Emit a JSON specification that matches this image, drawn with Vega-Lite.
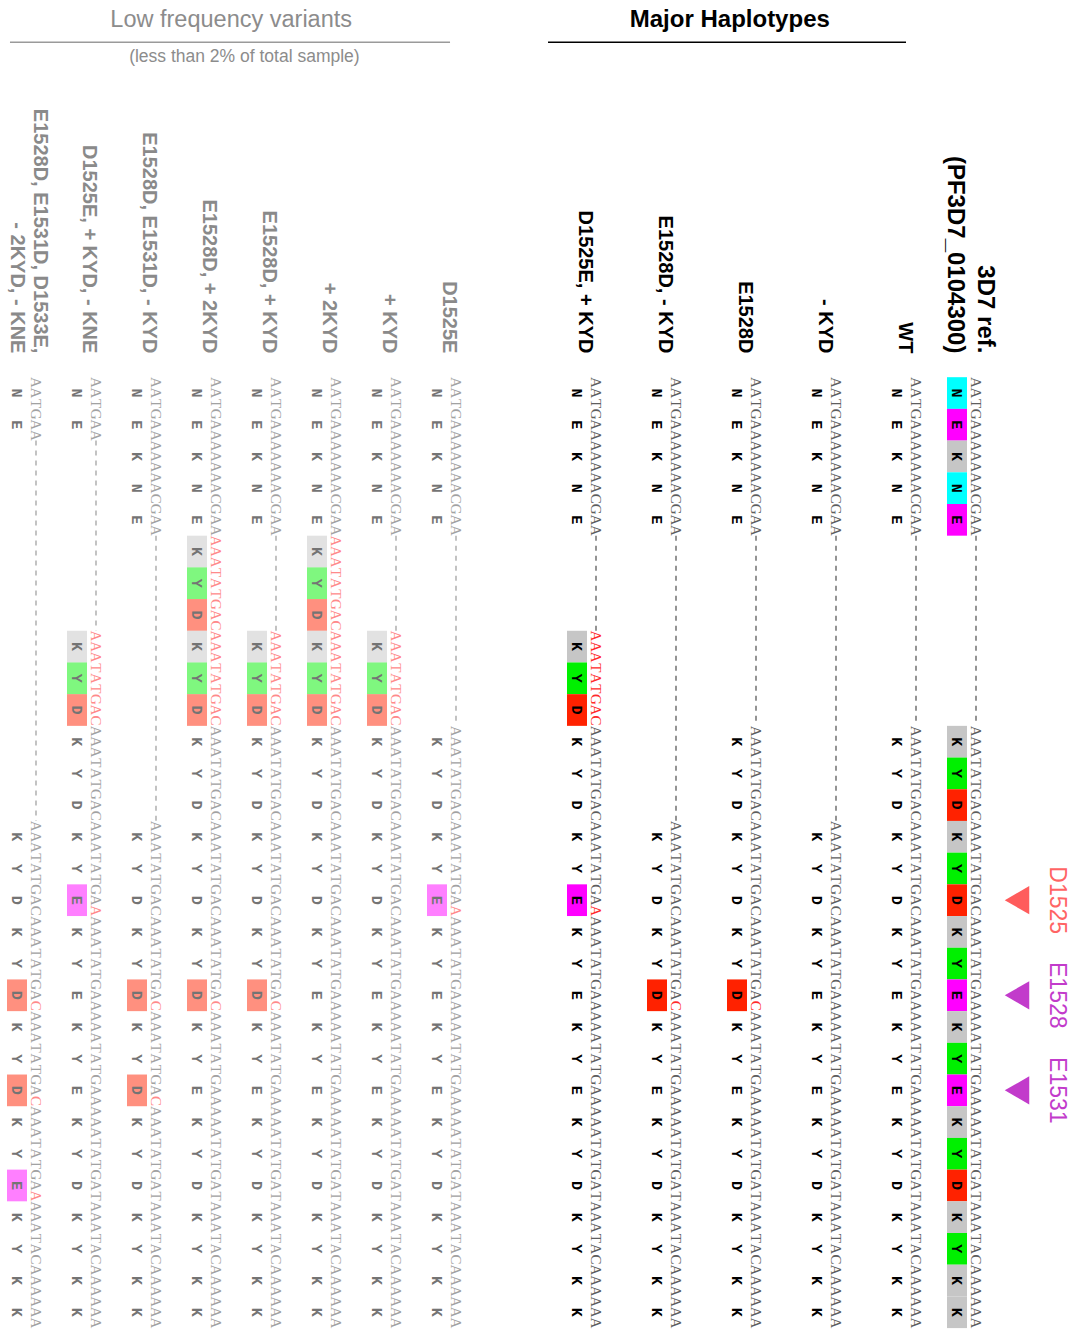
{
  "$schema": "https://vega.github.io/schema/vega-lite/v6.json",
  "width": 1077,
  "height": 1330,
  "autosize": {"type": "none"},
  "padding": 0,
  "background": "white",
  "config": {"view": {"stroke": null}},
  "datasets": {
    "cells": [
      {"c":13,"s":0,"a":"N","n":"AAT","b":1},{"c":13,"s":1,"a":"E","n":"GAA","b":1},{"c":13,"s":2,"a":"K","n":"AAA","b":1},{"c":13,"s":3,"a":"N","n":"AAC","b":1},{"c":13,"s":4,"a":"E","n":"GAA","b":1},
      {"c":13,"s":11,"a":"K","n":"AAA","b":1},{"c":13,"s":12,"a":"Y","n":"TAT","b":1},{"c":13,"s":13,"a":"D","n":"GAC","b":1},{"c":13,"s":14,"a":"K","n":"AAA","b":1},{"c":13,"s":15,"a":"Y","n":"TAT","b":1},{"c":13,"s":16,"a":"D","n":"GAC","b":1},{"c":13,"s":17,"a":"K","n":"AAA","b":1},{"c":13,"s":18,"a":"Y","n":"TAT","b":1},{"c":13,"s":19,"a":"E","n":"GAA","b":1},{"c":13,"s":20,"a":"K","n":"AAA","b":1},{"c":13,"s":21,"a":"Y","n":"TAT","b":1},{"c":13,"s":22,"a":"E","n":"GAA","b":1},{"c":13,"s":23,"a":"K","n":"AAA","b":1},{"c":13,"s":24,"a":"Y","n":"TAT","b":1},{"c":13,"s":25,"a":"D","n":"GAT","b":1},{"c":13,"s":26,"a":"K","n":"AAA","b":1},{"c":13,"s":27,"a":"Y","n":"TAC","b":1},{"c":13,"s":28,"a":"K","n":"AAA","b":1},{"c":13,"s":29,"a":"K","n":"AAA","b":1},

      {"c":12,"s":0,"a":"N","n":"AAT"},{"c":12,"s":1,"a":"E","n":"GAA"},{"c":12,"s":2,"a":"K","n":"AAA"},{"c":12,"s":3,"a":"N","n":"AAC"},{"c":12,"s":4,"a":"E","n":"GAA"},
      {"c":12,"s":11,"a":"K","n":"AAA"},{"c":12,"s":12,"a":"Y","n":"TAT"},{"c":12,"s":13,"a":"D","n":"GAC"},{"c":12,"s":14,"a":"K","n":"AAA"},{"c":12,"s":15,"a":"Y","n":"TAT"},{"c":12,"s":16,"a":"D","n":"GAC"},{"c":12,"s":17,"a":"K","n":"AAA"},{"c":12,"s":18,"a":"Y","n":"TAT"},{"c":12,"s":19,"a":"E","n":"GAA"},{"c":12,"s":20,"a":"K","n":"AAA"},{"c":12,"s":21,"a":"Y","n":"TAT"},{"c":12,"s":22,"a":"E","n":"GAA"},{"c":12,"s":23,"a":"K","n":"AAA"},{"c":12,"s":24,"a":"Y","n":"TAT"},{"c":12,"s":25,"a":"D","n":"GAT"},{"c":12,"s":26,"a":"K","n":"AAA"},{"c":12,"s":27,"a":"Y","n":"TAC"},{"c":12,"s":28,"a":"K","n":"AAA"},{"c":12,"s":29,"a":"K","n":"AAA"},

      {"c":11,"s":0,"a":"N","n":"AAT"},{"c":11,"s":1,"a":"E","n":"GAA"},{"c":11,"s":2,"a":"K","n":"AAA"},{"c":11,"s":3,"a":"N","n":"AAC"},{"c":11,"s":4,"a":"E","n":"GAA"},
      {"c":11,"s":14,"a":"K","n":"AAA"},{"c":11,"s":15,"a":"Y","n":"TAT"},{"c":11,"s":16,"a":"D","n":"GAC"},{"c":11,"s":17,"a":"K","n":"AAA"},{"c":11,"s":18,"a":"Y","n":"TAT"},{"c":11,"s":19,"a":"E","n":"GAA"},{"c":11,"s":20,"a":"K","n":"AAA"},{"c":11,"s":21,"a":"Y","n":"TAT"},{"c":11,"s":22,"a":"E","n":"GAA"},{"c":11,"s":23,"a":"K","n":"AAA"},{"c":11,"s":24,"a":"Y","n":"TAT"},{"c":11,"s":25,"a":"D","n":"GAT"},{"c":11,"s":26,"a":"K","n":"AAA"},{"c":11,"s":27,"a":"Y","n":"TAC"},{"c":11,"s":28,"a":"K","n":"AAA"},{"c":11,"s":29,"a":"K","n":"AAA"},

      {"c":10,"s":0,"a":"N","n":"AAT"},{"c":10,"s":1,"a":"E","n":"GAA"},{"c":10,"s":2,"a":"K","n":"AAA"},{"c":10,"s":3,"a":"N","n":"AAC"},{"c":10,"s":4,"a":"E","n":"GAA"},
      {"c":10,"s":11,"a":"K","n":"AAA"},{"c":10,"s":12,"a":"Y","n":"TAT"},{"c":10,"s":13,"a":"D","n":"GAC"},{"c":10,"s":14,"a":"K","n":"AAA"},{"c":10,"s":15,"a":"Y","n":"TAT"},{"c":10,"s":16,"a":"D","n":"GAC"},{"c":10,"s":17,"a":"K","n":"AAA"},{"c":10,"s":18,"a":"Y","n":"TAT"},{"c":10,"s":19,"a":"D","n":"GAC","b":1,"t":"C"},{"c":10,"s":20,"a":"K","n":"AAA"},{"c":10,"s":21,"a":"Y","n":"TAT"},{"c":10,"s":22,"a":"E","n":"GAA"},{"c":10,"s":23,"a":"K","n":"AAA"},{"c":10,"s":24,"a":"Y","n":"TAT"},{"c":10,"s":25,"a":"D","n":"GAT"},{"c":10,"s":26,"a":"K","n":"AAA"},{"c":10,"s":27,"a":"Y","n":"TAC"},{"c":10,"s":28,"a":"K","n":"AAA"},{"c":10,"s":29,"a":"K","n":"AAA"},

      {"c":9,"s":0,"a":"N","n":"AAT"},{"c":9,"s":1,"a":"E","n":"GAA"},{"c":9,"s":2,"a":"K","n":"AAA"},{"c":9,"s":3,"a":"N","n":"AAC"},{"c":9,"s":4,"a":"E","n":"GAA"},
      {"c":9,"s":14,"a":"K","n":"AAA"},{"c":9,"s":15,"a":"Y","n":"TAT"},{"c":9,"s":16,"a":"D","n":"GAC"},{"c":9,"s":17,"a":"K","n":"AAA"},{"c":9,"s":18,"a":"Y","n":"TAT"},{"c":9,"s":19,"a":"D","n":"GAC","b":1,"t":"C"},{"c":9,"s":20,"a":"K","n":"AAA"},{"c":9,"s":21,"a":"Y","n":"TAT"},{"c":9,"s":22,"a":"E","n":"GAA"},{"c":9,"s":23,"a":"K","n":"AAA"},{"c":9,"s":24,"a":"Y","n":"TAT"},{"c":9,"s":25,"a":"D","n":"GAT"},{"c":9,"s":26,"a":"K","n":"AAA"},{"c":9,"s":27,"a":"Y","n":"TAC"},{"c":9,"s":28,"a":"K","n":"AAA"},{"c":9,"s":29,"a":"K","n":"AAA"},

      {"c":8,"s":0,"a":"N","n":"AAT"},{"c":8,"s":1,"a":"E","n":"GAA"},{"c":8,"s":2,"a":"K","n":"AAA"},{"c":8,"s":3,"a":"N","n":"AAC"},{"c":8,"s":4,"a":"E","n":"GAA"},
      {"c":8,"s":8,"a":"K","n":"AAA","b":1,"r":1},{"c":8,"s":9,"a":"Y","n":"TAT","b":1,"r":1},{"c":8,"s":10,"a":"D","n":"GAC","b":1,"r":1},
      {"c":8,"s":11,"a":"K","n":"AAA"},{"c":8,"s":12,"a":"Y","n":"TAT"},{"c":8,"s":13,"a":"D","n":"GAC"},{"c":8,"s":14,"a":"K","n":"AAA"},{"c":8,"s":15,"a":"Y","n":"TAT"},{"c":8,"s":16,"a":"E","n":"GAA","b":1,"t":"A"},{"c":8,"s":17,"a":"K","n":"AAA"},{"c":8,"s":18,"a":"Y","n":"TAT"},{"c":8,"s":19,"a":"E","n":"GAA"},{"c":8,"s":20,"a":"K","n":"AAA"},{"c":8,"s":21,"a":"Y","n":"TAT"},{"c":8,"s":22,"a":"E","n":"GAA"},{"c":8,"s":23,"a":"K","n":"AAA"},{"c":8,"s":24,"a":"Y","n":"TAT"},{"c":8,"s":25,"a":"D","n":"GAT"},{"c":8,"s":26,"a":"K","n":"AAA"},{"c":8,"s":27,"a":"Y","n":"TAC"},{"c":8,"s":28,"a":"K","n":"AAA"},{"c":8,"s":29,"a":"K","n":"AAA"},

      {"c":7,"s":0,"a":"N","n":"AAT"},{"c":7,"s":1,"a":"E","n":"GAA"},{"c":7,"s":2,"a":"K","n":"AAA"},{"c":7,"s":3,"a":"N","n":"AAC"},{"c":7,"s":4,"a":"E","n":"GAA"},
      {"c":7,"s":11,"a":"K","n":"AAA"},{"c":7,"s":12,"a":"Y","n":"TAT"},{"c":7,"s":13,"a":"D","n":"GAC"},{"c":7,"s":14,"a":"K","n":"AAA"},{"c":7,"s":15,"a":"Y","n":"TAT"},{"c":7,"s":16,"a":"E","n":"GAA","b":1,"t":"A"},{"c":7,"s":17,"a":"K","n":"AAA"},{"c":7,"s":18,"a":"Y","n":"TAT"},{"c":7,"s":19,"a":"E","n":"GAA"},{"c":7,"s":20,"a":"K","n":"AAA"},{"c":7,"s":21,"a":"Y","n":"TAT"},{"c":7,"s":22,"a":"E","n":"GAA"},{"c":7,"s":23,"a":"K","n":"AAA"},{"c":7,"s":24,"a":"Y","n":"TAT"},{"c":7,"s":25,"a":"D","n":"GAT"},{"c":7,"s":26,"a":"K","n":"AAA"},{"c":7,"s":27,"a":"Y","n":"TAC"},{"c":7,"s":28,"a":"K","n":"AAA"},{"c":7,"s":29,"a":"K","n":"AAA"},

      {"c":6,"s":0,"a":"N","n":"AAT"},{"c":6,"s":1,"a":"E","n":"GAA"},{"c":6,"s":2,"a":"K","n":"AAA"},{"c":6,"s":3,"a":"N","n":"AAC"},{"c":6,"s":4,"a":"E","n":"GAA"},
      {"c":6,"s":8,"a":"K","n":"AAA","b":1,"r":1},{"c":6,"s":9,"a":"Y","n":"TAT","b":1,"r":1},{"c":6,"s":10,"a":"D","n":"GAC","b":1,"r":1},
      {"c":6,"s":11,"a":"K","n":"AAA"},{"c":6,"s":12,"a":"Y","n":"TAT"},{"c":6,"s":13,"a":"D","n":"GAC"},{"c":6,"s":14,"a":"K","n":"AAA"},{"c":6,"s":15,"a":"Y","n":"TAT"},{"c":6,"s":16,"a":"D","n":"GAC"},{"c":6,"s":17,"a":"K","n":"AAA"},{"c":6,"s":18,"a":"Y","n":"TAT"},{"c":6,"s":19,"a":"E","n":"GAA"},{"c":6,"s":20,"a":"K","n":"AAA"},{"c":6,"s":21,"a":"Y","n":"TAT"},{"c":6,"s":22,"a":"E","n":"GAA"},{"c":6,"s":23,"a":"K","n":"AAA"},{"c":6,"s":24,"a":"Y","n":"TAT"},{"c":6,"s":25,"a":"D","n":"GAT"},{"c":6,"s":26,"a":"K","n":"AAA"},{"c":6,"s":27,"a":"Y","n":"TAC"},{"c":6,"s":28,"a":"K","n":"AAA"},{"c":6,"s":29,"a":"K","n":"AAA"},

      {"c":5,"s":0,"a":"N","n":"AAT"},{"c":5,"s":1,"a":"E","n":"GAA"},{"c":5,"s":2,"a":"K","n":"AAA"},{"c":5,"s":3,"a":"N","n":"AAC"},{"c":5,"s":4,"a":"E","n":"GAA"},
      {"c":5,"s":5,"a":"K","n":"AAA","b":1,"r":1},{"c":5,"s":6,"a":"Y","n":"TAT","b":1,"r":1},{"c":5,"s":7,"a":"D","n":"GAC","b":1,"r":1},{"c":5,"s":8,"a":"K","n":"AAA","b":1,"r":1},{"c":5,"s":9,"a":"Y","n":"TAT","b":1,"r":1},{"c":5,"s":10,"a":"D","n":"GAC","b":1,"r":1},
      {"c":5,"s":11,"a":"K","n":"AAA"},{"c":5,"s":12,"a":"Y","n":"TAT"},{"c":5,"s":13,"a":"D","n":"GAC"},{"c":5,"s":14,"a":"K","n":"AAA"},{"c":5,"s":15,"a":"Y","n":"TAT"},{"c":5,"s":16,"a":"D","n":"GAC"},{"c":5,"s":17,"a":"K","n":"AAA"},{"c":5,"s":18,"a":"Y","n":"TAT"},{"c":5,"s":19,"a":"E","n":"GAA"},{"c":5,"s":20,"a":"K","n":"AAA"},{"c":5,"s":21,"a":"Y","n":"TAT"},{"c":5,"s":22,"a":"E","n":"GAA"},{"c":5,"s":23,"a":"K","n":"AAA"},{"c":5,"s":24,"a":"Y","n":"TAT"},{"c":5,"s":25,"a":"D","n":"GAT"},{"c":5,"s":26,"a":"K","n":"AAA"},{"c":5,"s":27,"a":"Y","n":"TAC"},{"c":5,"s":28,"a":"K","n":"AAA"},{"c":5,"s":29,"a":"K","n":"AAA"},

      {"c":4,"s":0,"a":"N","n":"AAT"},{"c":4,"s":1,"a":"E","n":"GAA"},{"c":4,"s":2,"a":"K","n":"AAA"},{"c":4,"s":3,"a":"N","n":"AAC"},{"c":4,"s":4,"a":"E","n":"GAA"},
      {"c":4,"s":8,"a":"K","n":"AAA","b":1,"r":1},{"c":4,"s":9,"a":"Y","n":"TAT","b":1,"r":1},{"c":4,"s":10,"a":"D","n":"GAC","b":1,"r":1},
      {"c":4,"s":11,"a":"K","n":"AAA"},{"c":4,"s":12,"a":"Y","n":"TAT"},{"c":4,"s":13,"a":"D","n":"GAC"},{"c":4,"s":14,"a":"K","n":"AAA"},{"c":4,"s":15,"a":"Y","n":"TAT"},{"c":4,"s":16,"a":"D","n":"GAC"},{"c":4,"s":17,"a":"K","n":"AAA"},{"c":4,"s":18,"a":"Y","n":"TAT"},{"c":4,"s":19,"a":"D","n":"GAC","b":1,"t":"C"},{"c":4,"s":20,"a":"K","n":"AAA"},{"c":4,"s":21,"a":"Y","n":"TAT"},{"c":4,"s":22,"a":"E","n":"GAA"},{"c":4,"s":23,"a":"K","n":"AAA"},{"c":4,"s":24,"a":"Y","n":"TAT"},{"c":4,"s":25,"a":"D","n":"GAT"},{"c":4,"s":26,"a":"K","n":"AAA"},{"c":4,"s":27,"a":"Y","n":"TAC"},{"c":4,"s":28,"a":"K","n":"AAA"},{"c":4,"s":29,"a":"K","n":"AAA"},

      {"c":3,"s":0,"a":"N","n":"AAT"},{"c":3,"s":1,"a":"E","n":"GAA"},{"c":3,"s":2,"a":"K","n":"AAA"},{"c":3,"s":3,"a":"N","n":"AAC"},{"c":3,"s":4,"a":"E","n":"GAA"},
      {"c":3,"s":5,"a":"K","n":"AAA","b":1,"r":1},{"c":3,"s":6,"a":"Y","n":"TAT","b":1,"r":1},{"c":3,"s":7,"a":"D","n":"GAC","b":1,"r":1},{"c":3,"s":8,"a":"K","n":"AAA","b":1,"r":1},{"c":3,"s":9,"a":"Y","n":"TAT","b":1,"r":1},{"c":3,"s":10,"a":"D","n":"GAC","b":1,"r":1},
      {"c":3,"s":11,"a":"K","n":"AAA"},{"c":3,"s":12,"a":"Y","n":"TAT"},{"c":3,"s":13,"a":"D","n":"GAC"},{"c":3,"s":14,"a":"K","n":"AAA"},{"c":3,"s":15,"a":"Y","n":"TAT"},{"c":3,"s":16,"a":"D","n":"GAC"},{"c":3,"s":17,"a":"K","n":"AAA"},{"c":3,"s":18,"a":"Y","n":"TAT"},{"c":3,"s":19,"a":"D","n":"GAC","b":1,"t":"C"},{"c":3,"s":20,"a":"K","n":"AAA"},{"c":3,"s":21,"a":"Y","n":"TAT"},{"c":3,"s":22,"a":"E","n":"GAA"},{"c":3,"s":23,"a":"K","n":"AAA"},{"c":3,"s":24,"a":"Y","n":"TAT"},{"c":3,"s":25,"a":"D","n":"GAT"},{"c":3,"s":26,"a":"K","n":"AAA"},{"c":3,"s":27,"a":"Y","n":"TAC"},{"c":3,"s":28,"a":"K","n":"AAA"},{"c":3,"s":29,"a":"K","n":"AAA"},

      {"c":2,"s":0,"a":"N","n":"AAT"},{"c":2,"s":1,"a":"E","n":"GAA"},{"c":2,"s":2,"a":"K","n":"AAA"},{"c":2,"s":3,"a":"N","n":"AAC"},{"c":2,"s":4,"a":"E","n":"GAA"},
      {"c":2,"s":14,"a":"K","n":"AAA"},{"c":2,"s":15,"a":"Y","n":"TAT"},{"c":2,"s":16,"a":"D","n":"GAC"},{"c":2,"s":17,"a":"K","n":"AAA"},{"c":2,"s":18,"a":"Y","n":"TAT"},{"c":2,"s":19,"a":"D","n":"GAC","b":1,"t":"C"},{"c":2,"s":20,"a":"K","n":"AAA"},{"c":2,"s":21,"a":"Y","n":"TAT"},{"c":2,"s":22,"a":"D","n":"GAC","b":1,"t":"C"},{"c":2,"s":23,"a":"K","n":"AAA"},{"c":2,"s":24,"a":"Y","n":"TAT"},{"c":2,"s":25,"a":"D","n":"GAT"},{"c":2,"s":26,"a":"K","n":"AAA"},{"c":2,"s":27,"a":"Y","n":"TAC"},{"c":2,"s":28,"a":"K","n":"AAA"},{"c":2,"s":29,"a":"K","n":"AAA"},

      {"c":1,"s":0,"a":"N","n":"AAT"},{"c":1,"s":1,"a":"E","n":"GAA"},
      {"c":1,"s":8,"a":"K","n":"AAA","b":1,"r":1},{"c":1,"s":9,"a":"Y","n":"TAT","b":1,"r":1},{"c":1,"s":10,"a":"D","n":"GAC","b":1,"r":1},
      {"c":1,"s":11,"a":"K","n":"AAA"},{"c":1,"s":12,"a":"Y","n":"TAT"},{"c":1,"s":13,"a":"D","n":"GAC"},{"c":1,"s":14,"a":"K","n":"AAA"},{"c":1,"s":15,"a":"Y","n":"TAT"},{"c":1,"s":16,"a":"E","n":"GAA","b":1,"t":"A"},{"c":1,"s":17,"a":"K","n":"AAA"},{"c":1,"s":18,"a":"Y","n":"TAT"},{"c":1,"s":19,"a":"E","n":"GAA"},{"c":1,"s":20,"a":"K","n":"AAA"},{"c":1,"s":21,"a":"Y","n":"TAT"},{"c":1,"s":22,"a":"E","n":"GAA"},{"c":1,"s":23,"a":"K","n":"AAA"},{"c":1,"s":24,"a":"Y","n":"TAT"},{"c":1,"s":25,"a":"D","n":"GAT"},{"c":1,"s":26,"a":"K","n":"AAA"},{"c":1,"s":27,"a":"Y","n":"TAC"},{"c":1,"s":28,"a":"K","n":"AAA"},{"c":1,"s":29,"a":"K","n":"AAA"},

      {"c":0,"s":0,"a":"N","n":"AAT"},{"c":0,"s":1,"a":"E","n":"GAA"},
      {"c":0,"s":14,"a":"K","n":"AAA"},{"c":0,"s":15,"a":"Y","n":"TAT"},{"c":0,"s":16,"a":"D","n":"GAC"},{"c":0,"s":17,"a":"K","n":"AAA"},{"c":0,"s":18,"a":"Y","n":"TAT"},{"c":0,"s":19,"a":"D","n":"GAC","b":1,"t":"C"},{"c":0,"s":20,"a":"K","n":"AAA"},{"c":0,"s":21,"a":"Y","n":"TAT"},{"c":0,"s":22,"a":"D","n":"GAC","b":1,"t":"C"},{"c":0,"s":23,"a":"K","n":"AAA"},{"c":0,"s":24,"a":"Y","n":"TAT"},{"c":0,"s":25,"a":"E","n":"GAA","b":1,"t":"A"},{"c":0,"s":26,"a":"K","n":"AAA"},{"c":0,"s":27,"a":"Y","n":"TAC"},{"c":0,"s":28,"a":"K","n":"AAA"},{"c":0,"s":29,"a":"K","n":"AAA"}
    ],
    "gaps": [
      {"c":13,"f":5,"e":10},{"c":12,"f":5,"e":10},{"c":11,"f":5,"e":13},{"c":10,"f":5,"e":10},{"c":9,"f":5,"e":13},{"c":8,"f":5,"e":7},
      {"c":7,"f":5,"e":10},{"c":6,"f":5,"e":7},{"c":4,"f":5,"e":7},{"c":2,"f":5,"e":13},{"c":1,"f":2,"e":7},{"c":0,"f":2,"e":13}
    ],
    "haps": [
      {"c":0,"g":"low","label":["E1528D, E1531D, D1533E,","- 2KYD, - KNE"]},
      {"c":1,"g":"low","label":"D1525E, + KYD, - KNE"},
      {"c":2,"g":"low","label":"E1528D, E1531D, - KYD"},
      {"c":3,"g":"low","label":"E1528D, + 2KYD"},
      {"c":4,"g":"low","label":"E1528D, + KYD"},
      {"c":5,"g":"low","label":"+ 2KYD"},
      {"c":6,"g":"low","label":"+ KYD"},
      {"c":7,"g":"low","label":"D1525E"},
      {"c":8,"g":"maj","label":"D1525E, + KYD"},
      {"c":9,"g":"maj","label":"E1528D, - KYD"},
      {"c":10,"g":"maj","label":"E1528D"},
      {"c":11,"g":"maj","label":"- KYD"},
      {"c":12,"g":"maj","label":"WT"},
      {"c":13,"g":"ref","label":["3D7 ref.","(PF3D7_0104300)"]}
    ],
    "sites": [
      {"s":16,"m":"D1525"},{"s":19,"m":"E1528"},{"s":22,"m":"E1531"}
    ],
    "heads": [
      {"k":"low","h":"Low frequency variants"},
      {"k":"sub","h":"(less than 2% of total sample)"},
      {"k":"maj","h":"Major Haplotypes"}
    ]
  },
  "layer": [
    {
      "data": {"name": "cells"},
      "transform": [{"filter": "datum.b == 1"}],
      "mark": {"type": "rect", "xOffset": -10, "x2Offset": 10, "yOffset": -15.85, "y2Offset": 15.85},
      "encoding": {
        "x": {"field": "c", "type": "quantitative", "axis": null, "scale": {"domain": [0, 7, 8, 12, 13], "range": [17, 437, 577, 897, 957], "zero": false, "nice": false}},
        "x2": {"field": "c"},
        "y": {"field": "s", "type": "quantitative", "axis": null, "scale": {"domain": [-12.4, 29.56], "range": [0, 1330], "zero": false, "nice": false}},
        "y2": {"field": "s"},
        "color": {"field": "a", "type": "nominal", "legend": null, "scale": {"domain": ["N", "E", "K", "Y", "D"], "range": ["#00FFFF", "#FF00FF", "#C6C6C6", "#00F000", "#FF2200"]}},
        "opacity": {"condition": {"test": "datum.c < 8", "value": 0.5}, "value": 1}
      }
    },
    {
      "data": {"name": "gaps"},
      "mark": {"type": "rule", "xOffset": 19, "yOffset": -15.85, "y2Offset": 15.85, "strokeDash": [5, 5], "strokeWidth": 1.6},
      "encoding": {
        "x": {"field": "c", "type": "quantitative", "axis": null},
        "y": {"field": "f", "type": "quantitative", "axis": null},
        "y2": {"field": "e"},
        "color": {"condition": {"test": "datum.c < 8", "value": "#b4b4b4"}, "value": "#7a7a7a"}
      }
    },
    {
      "data": {"name": "cells"},
      "mark": {"type": "text", "angle": 90, "align": "center", "baseline": "middle", "dx": -10.57, "dy": -19, "font": "Liberation Serif", "fontSize": 15},
      "encoding": {
        "x": {"field": "c", "type": "quantitative", "axis": null},
        "y": {"field": "s", "type": "quantitative", "axis": null},
        "text": {"field": "n[0]"},
        "color": {
          "condition": [
            {"test": "datum.r == 1 && datum.c < 8", "value": "#ff8a8a"},
            {"test": "datum.r == 1", "value": "#ff2a2a"},
            {"test": "datum.c < 8", "value": "#a2a2a2"}
          ],
          "value": "#5e5e5e"
        }
      }
    },
    {
      "data": {"name": "cells"},
      "mark": {"type": "text", "angle": 90, "align": "center", "baseline": "middle", "dx": 0, "dy": -19, "font": "Liberation Serif", "fontSize": 15},
      "encoding": {
        "x": {"field": "c", "type": "quantitative", "axis": null},
        "y": {"field": "s", "type": "quantitative", "axis": null},
        "text": {"field": "n[1]"},
        "color": {
          "condition": [
            {"test": "datum.r == 1 && datum.c < 8", "value": "#ff8a8a"},
            {"test": "datum.r == 1", "value": "#ff2a2a"},
            {"test": "datum.c < 8", "value": "#a2a2a2"}
          ],
          "value": "#5e5e5e"
        }
      }
    },
    {
      "data": {"name": "cells"},
      "mark": {"type": "text", "angle": 90, "align": "center", "baseline": "middle", "dx": 10.57, "dy": -19, "font": "Liberation Serif", "fontSize": 15},
      "encoding": {
        "x": {"field": "c", "type": "quantitative", "axis": null},
        "y": {"field": "s", "type": "quantitative", "axis": null},
        "text": {"field": "n[2]"},
        "color": {
          "condition": [
            {"test": "(datum.r == 1 || datum.t) && datum.c < 8", "value": "#ff8a8a"},
            {"test": "datum.r == 1 || datum.t", "value": "#ff2a2a"},
            {"test": "datum.c < 8", "value": "#a2a2a2"}
          ],
          "value": "#5e5e5e"
        }
      }
    },
    {
      "data": {"name": "cells"},
      "mark": {"type": "text", "angle": 90, "align": "center", "baseline": "middle", "font": "Liberation Mono", "fontWeight": "bold", "fontSize": 15},
      "encoding": {
        "x": {"field": "c", "type": "quantitative", "axis": null},
        "y": {"field": "s", "type": "quantitative", "axis": null},
        "text": {"field": "a"},
        "color": {"condition": {"test": "datum.c < 8", "value": "#747474"}, "value": "#000000"}
      }
    },
    {
      "data": {"name": "haps"},
      "transform": [{"filter": "datum.g == 'ref'"}],
      "mark": {"type": "text", "angle": 90, "align": "right", "baseline": "middle", "dy": -28, "font": "Liberation Sans", "fontWeight": "bold", "fontSize": 24, "lineHeight": 30, "color": "#000000"},
      "encoding": {
        "x": {"field": "c", "type": "quantitative", "axis": null},
        "y": {"datum": -1.25, "type": "quantitative", "axis": null},
        "text": {"field": "label"}
      }
    },
    {
      "data": {"name": "haps"},
      "transform": [{"filter": "datum.g == 'maj'"}],
      "mark": {"type": "text", "angle": 90, "align": "right", "baseline": "middle", "dy": -8, "font": "Liberation Sans", "fontWeight": "bold", "fontSize": 20, "color": "#000000"},
      "encoding": {
        "x": {"field": "c", "type": "quantitative", "axis": null},
        "y": {"datum": -1.25, "type": "quantitative", "axis": null},
        "text": {"field": "label"}
      }
    },
    {
      "data": {"name": "haps"},
      "transform": [{"filter": "datum.g == 'low' && !isArray(datum.label)"}],
      "mark": {"type": "text", "angle": 90, "align": "right", "baseline": "middle", "dy": -12, "font": "Liberation Sans", "fontWeight": "bold", "fontSize": 20, "color": "#8a8a8a"},
      "encoding": {
        "x": {"field": "c", "type": "quantitative", "axis": null},
        "y": {"datum": -1.25, "type": "quantitative", "axis": null},
        "text": {"field": "label"}
      }
    },
    {
      "data": {"name": "haps"},
      "transform": [{"filter": "datum.g == 'low' && isArray(datum.label)"}],
      "mark": {"type": "text", "angle": 90, "align": "right", "baseline": "middle", "dy": -23, "font": "Liberation Sans", "fontWeight": "bold", "fontSize": 20, "lineHeight": 23, "color": "#8a8a8a"},
      "encoding": {
        "x": {"field": "c", "type": "quantitative", "axis": null},
        "y": {"datum": -1.25, "type": "quantitative", "axis": null},
        "text": {"field": "label"}
      }
    },
    {
      "data": {"name": "heads"},
      "transform": [{"filter": "datum.k == 'low'"}],
      "mark": {"type": "text", "align": "center", "baseline": "middle", "font": "Liberation Sans", "fontSize": 23.5, "color": "#8c8c8c"},
      "encoding": {
        "x": {"datum": 3.57, "type": "quantitative", "axis": null},
        "y": {"datum": -11.77, "type": "quantitative", "axis": null},
        "text": {"field": "h"}
      }
    },
    {
      "data": {"name": "heads"},
      "transform": [{"filter": "datum.k == 'sub'"}],
      "mark": {"type": "text", "align": "center", "baseline": "middle", "font": "Liberation Sans", "fontSize": 17.5, "color": "#8c8c8c"},
      "encoding": {
        "x": {"datum": 3.79, "type": "quantitative", "axis": null},
        "y": {"datum": -10.6, "type": "quantitative", "axis": null},
        "text": {"field": "h"}
      }
    },
    {
      "data": {"name": "heads"},
      "transform": [{"filter": "datum.k == 'low'"}],
      "mark": {"type": "rule", "color": "#9a9a9a", "strokeWidth": 1.5},
      "encoding": {
        "x": {"datum": -0.117, "type": "quantitative", "axis": null},
        "x2": {"datum": 7.093},
        "y": {"datum": -11.07, "type": "quantitative", "axis": null}
      }
    },
    {
      "data": {"name": "heads"},
      "transform": [{"filter": "datum.k == 'maj'"}],
      "mark": {"type": "text", "align": "center", "baseline": "middle", "font": "Liberation Sans", "fontWeight": "bold", "fontSize": 24, "color": "#000000"},
      "encoding": {
        "x": {"datum": 9.91, "type": "quantitative", "axis": null},
        "y": {"datum": -11.77, "type": "quantitative", "axis": null},
        "text": {"field": "h"}
      }
    },
    {
      "data": {"name": "heads"},
      "transform": [{"filter": "datum.k == 'maj'"}],
      "mark": {"type": "rule", "color": "#000000", "strokeWidth": 1.5},
      "encoding": {
        "x": {"datum": 7.793, "type": "quantitative", "axis": null},
        "x2": {"datum": 12.15},
        "y": {"datum": -11.07, "type": "quantitative", "axis": null}
      }
    },
    {
      "data": {"name": "sites"},
      "mark": {"type": "point", "shape": "triangle-left", "filled": true, "size": 800, "opacity": 1},
      "encoding": {
        "x": {"datum": 14.0, "type": "quantitative", "axis": null},
        "y": {"field": "s", "type": "quantitative", "axis": null},
        "color": {"condition": {"test": "datum.m == 'D1525'", "value": "#ff5c5c"}, "value": "#c23bcb"}
      }
    },
    {
      "data": {"name": "sites"},
      "mark": {"type": "text", "angle": 90, "align": "center", "baseline": "middle", "font": "Liberation Sans", "fontSize": 23},
      "encoding": {
        "x": {"datum": 14.67, "type": "quantitative", "axis": null},
        "y": {"field": "s", "type": "quantitative", "axis": null},
        "text": {"field": "m"},
        "color": {"condition": {"test": "datum.m == 'D1525'", "value": "#ff6464"}, "value": "#c23bcb"}
      }
    }
  ]
}
